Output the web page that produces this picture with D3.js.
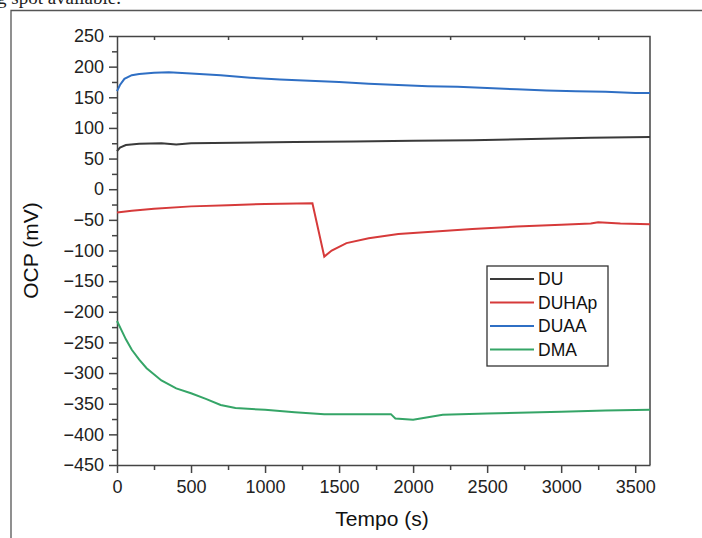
<!DOCTYPE html>
<html>
<head>
<meta charset="utf-8">
<script src="https://cdn.jsdelivr.net/npm/d3@7"></script>
<style>
  body { margin: 0; background: #fff; }
  svg { display: block; font-family: "Liberation Sans", Arial, sans-serif; }
  .axis path, .axis line { stroke: #444; stroke-width: 1.5; }
  .axis text { fill: #222; font-size: 18px; }
</style>
</head>
<body>
<svg id="graph" width="702" height="538"></svg>
<script>
// series: [time (s), OCP (mV)]
var timeDU    = [0, 20, 60, 150, 300, 400, 500, 800, 1200, 1600, 2000, 2400, 2800, 3200, 3600];
var ocpDU     = [62, 68, 72, 74, 75, 73, 75, 76, 77, 78, 79, 80, 82, 84, 85];

var timeDUHAp = [0, 100, 250, 500, 750, 1000, 1320, 1400, 1450, 1550, 1700, 1900, 2100, 2400, 2700, 3000, 3200, 3250, 3400, 3600];
var ocpDUHAp  = [-38, -35, -32, -28, -26, -24, -23, -110, -100, -88, -80, -73, -70, -65, -61, -58, -56, -54, -56, -57];

var timeDUAA  = [0, 20, 50, 100, 150, 250, 350, 500, 700, 900, 1100, 1300, 1500, 1700, 1900, 2100, 2300, 2500, 2700, 2900, 3100, 3300, 3500, 3600];
var ocpDUAA   = [160, 170, 180, 186, 188, 190, 191, 189, 186, 182, 179, 177, 175, 172, 170, 168, 167, 165, 163, 161, 160, 159, 157, 157];

var timeDMA   = [0, 30, 60, 100, 150, 200, 300, 400, 500, 600, 700, 800, 1000, 1200, 1400, 1600, 1850, 1880, 2000, 2100, 2200, 2500, 3000, 3300, 3600];
var ocpDMA    = [-215, -230, -245, -262, -278, -292, -312, -325, -333, -342, -352, -357, -360, -364, -367, -367, -367, -374, -376, -372, -368, -366, -363, -361, -360];

var seriesNames  = ["DU", "DUHAp", "DUAA", "DMA"];
var seriesColors = ["#3a3a3a", "#d63a3a", "#2f6fc4", "#35a567"];

var xMajor = d3.range(0, 3501, 500);
var xMinor = d3.range(250, 3600, 500);
var yMajor = d3.range(-450, 251, 50);
var yMinor = d3.range(-425, 250, 50);

var series = [
  {name: seriesNames[0], t: timeDU,    v: ocpDU},
  {name: seriesNames[1], t: timeDUHAp, v: ocpDUHAp},
  {name: seriesNames[2], t: timeDUAA,  v: ocpDUAA},
  {name: seriesNames[3], t: timeDMA,   v: ocpDMA}
];

var margin = {top: 36, left: 117, right: 52, bottom: 73},
    width = 702 - margin.left - margin.right,
    height = 538 - margin.top - margin.bottom;

var svg = d3.select("#graph");

// page fragment: text cut at the top and the frame around the figure
svg.append("text")
    .attr("x", -3).attr("y", 4)
    .style("font-family", "'Liberation Serif', 'Times New Roman', serif")
    .style("font-size", "19px")
    .attr("fill", "#222")
    .text("g  spot available.");

svg.append("path")
    .attr("d", "M11,538V10.5H702")
    .attr("fill", "none")
    .attr("stroke", "#555")
    .attr("stroke-width", 1.3);

var g = svg.append("g")
    .attr("transform", "translate(" + margin.left + "," + margin.top + ")");

var x = d3.scaleLinear().domain([0, 3600]).range([0, width]);
var y = d3.scaleLinear().domain([-450, 250]).range([height, 0]);

// minor ticks
g.append("g").attr("class", "axis")
    .attr("transform", "translate(0," + height + ")")
    .call(d3.axisBottom(x).tickValues(xMinor).tickSize(5).tickFormat(""))
    .select(".domain").remove();
g.append("g").attr("class", "axis")
    .call(d3.axisLeft(y).tickValues(yMinor).tickSize(5).tickFormat(""))
    .select(".domain").remove();
g.append("g").attr("class", "axis")
    .call(d3.axisTop(x).tickValues(xMinor).tickSize(-4).tickFormat(""))
    .select(".domain").remove();

// major axes
g.append("g").attr("class", "axis")
    .attr("transform", "translate(0," + height + ")")
    .call(d3.axisBottom(x).tickValues(xMajor).tickSize(8).tickPadding(7)
      .tickSizeOuter(0).tickFormat(d3.format("d")));
g.append("g").attr("class", "axis")
    .call(d3.axisLeft(y).tickValues(yMajor).tickSize(8).tickPadding(5).tickSizeOuter(0));

// frame top and right
g.append("path")
    .attr("d", "M0,0.5H" + width + "V" + height)
    .attr("fill", "none")
    .attr("stroke", "#444")
    .attr("stroke-width", 1.5);

var line = d3.line()
    .x(function(d) { return x(d[0]); })
    .y(function(d) { return y(d[1]); });

g.selectAll(".series")
  .data(series)
  .enter().append("path")
    .attr("class", "series")
    .attr("fill", "none")
    .attr("stroke-width", 2)
    .attr("stroke", function(d, i) { return seriesColors[i]; })
    .attr("d", function(d) {
      return line(d.t.map(function(t, i) { return [t, d.v[i]]; }));
    });

// axis titles
svg.append("text")
    .attr("x", margin.left + x(1790)).attr("y", 526)
    .attr("text-anchor", "middle")
    .style("font-size", "21px")
    .attr("fill", "#111")
    .text("Tempo (s)");

svg.append("text")
    .attr("transform", "translate(38," + (margin.top + y(-100)) + ") rotate(-90)")
    .attr("text-anchor", "middle")
    .style("font-size", "21px")
    .attr("fill", "#111")
    .text("OCP (mV)");

// legend
var legend = svg.append("g").attr("transform", "translate(487,266)");
legend.append("rect")
    .attr("width", 121).attr("height", 100)
    .attr("fill", "#fff")
    .attr("stroke", "#333")
    .attr("stroke-width", 1.3);
var items = legend.selectAll(".item")
  .data(seriesNames)
  .enter().append("g")
    .attr("class", "item")
    .attr("transform", function(d, i) { return "translate(0," + (13 + i * 23.5) + ")"; });
items.append("line")
    .attr("x1", 3).attr("x2", 47)
    .attr("stroke-width", 2)
    .attr("stroke", function(d, i) { return seriesColors[i]; });
items.append("text")
    .attr("x", 51).attr("dy", "0.36em")
    .style("font-size", "17.5px")
    .attr("fill", "#111")
    .text(function(d) { return d; });
</script>
</body>
</html>
